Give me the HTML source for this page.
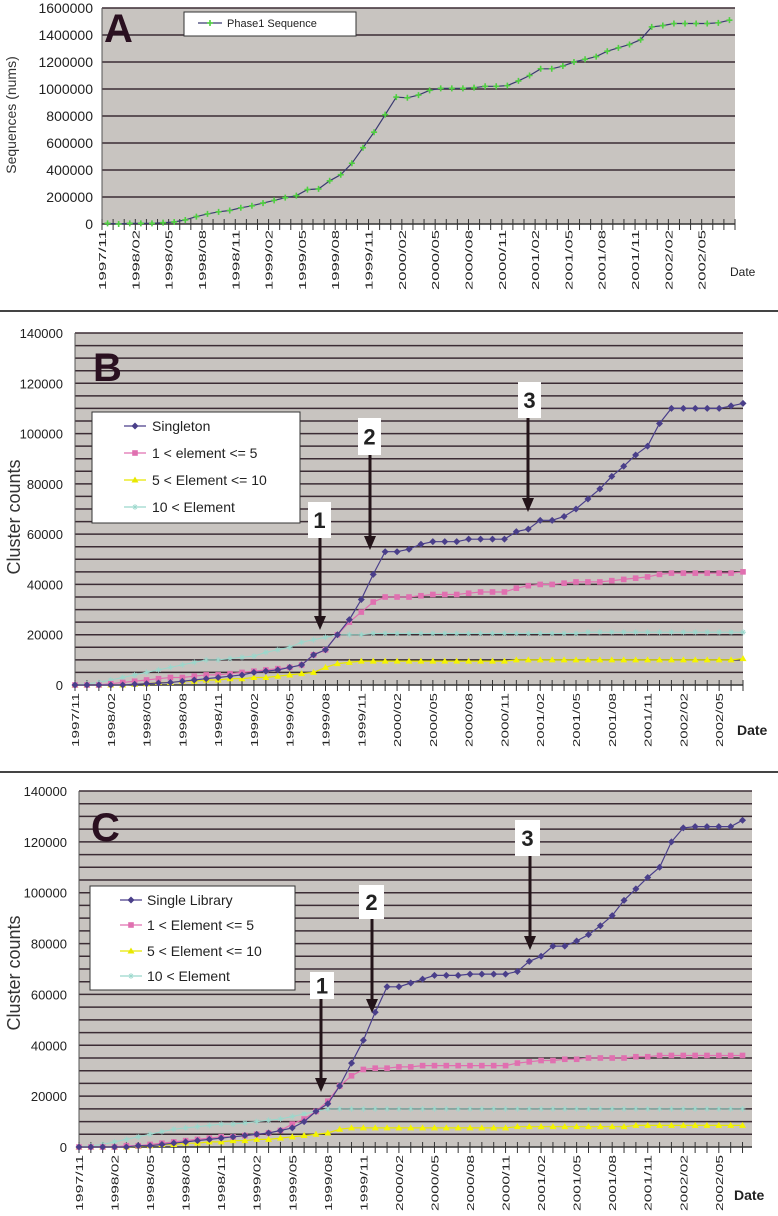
<!DOCTYPE html>
<html><head><meta charset="utf-8"><style>
html,body{margin:0;padding:0;background:#fff;}
svg{display:block;}
text{font-family:"Liberation Sans",sans-serif;}
</style></head><body>
<svg id="fig" width="778" height="1216" viewBox="0 0 778 1216" xmlns="http://www.w3.org/2000/svg"></svg>
<script>
// ---- data (values in thousands) ----
const months = ["1997/11","1998/02","1998/05","1998/08","1998/11","1999/02","1999/05","1999/08","1999/11","2000/02","2000/05","2000/08","2000/11","2001/02","2001/05","2001/08","2001/11","2002/02","2002/05"];
const monthsB = ["1997/11","1998/02","1998/05","1998/08","1998/11","1999/02","1999/05","1999/08","1999/11","2000/02","2000/05","2000/08","2000/11","2001/02","2001/05","2001/08","2001/11","2002/02","2002/05"];
const yTicksA = [0,200000,400000,600000,800000,1000000,1200000,1400000,1600000];
const yTicksBC = [0,20000,40000,60000,80000,100000,120000,140000];
const phase1Seq = [5,0,5,5,5,10,15,30,55,75,90,100,120,135,155,175,195,210,255,260,320,365,450,565,680,810,940,935,955,990,1005,1005,1005,1010,1020,1020,1025,1060,1100,1150,1150,1170,1200,1220,1240,1280,1305,1330,1365,1460,1470,1485,1485,1485,1485,1490,1510];
const bSingleton = [0,0,0,0,0,0.3,0.5,0.8,1,1.5,2,2.5,3,3.5,4,5,5.5,6,7,8,12,14,20,26,34,44,53,53,54,56,57,57,57,58,58,58,58,61,62,65.5,65.5,67,70,74,78,83,87,91.5,95,104,110,110,110,110,110,111,112];
const bPink = [0,0,0,0.5,1,1.5,2,2.5,3,3,3.5,4,4,4.5,5,5.5,6,6.5,7,8,12,14,20,25,29,33,35,35,35,35.5,36,36,36,36.5,37,37,37,38.5,39.5,40,40,40.5,41,41,41,41.5,42,42.5,43,44,44.5,44.5,44.5,44.5,44.5,44.5,45];
const bYellow = [0,0,0,0,0,0.3,0.5,1,1,1.5,1.5,2,2,2.5,2.5,3,3,3.5,4,4.5,5,7,8.5,9,9.5,9.5,9.5,9.5,9.5,9.5,9.5,9.5,9.5,9.5,9.5,9.5,9.5,10,10,10,10,10,10,10,10,10,10,10,10,10,10,10,10,10,10,10,10.5];
const bTeal = [0,0.5,1,2,3,4,5,6,7,8,9,10,10,10.5,11,11.5,13,14,15,17,18,19,20,20,20,20.5,20.5,20.5,20.5,20.5,20.5,20.5,20.5,20.5,20.5,20.5,20.5,20.5,20.5,20.5,20.5,20.5,20.5,21,21,21,21,21,21,21,21,21,21,21,21,21,21];
const cSingle = [0,0,0,0,0,0.5,0.5,1,1.5,2,2.5,3,3.5,4,4.5,5,5.5,6.5,7.5,10,14,17,24,33,42,53,63,63,64.5,66,67.5,67.5,67.5,68,68,68,68,69,73,75,79,79,81,83.5,87,91,97,101.5,106,110,120,125.5,126,126,126,126,128.5];
const cPink = [0,0,0,0,0.5,0.5,1,1.5,2,2.5,3,3.5,4,4,4.5,5,5.5,6.5,9,11,14,18,24,28,30.5,31,31,31.5,31.5,32,32,32,32,32,32,32,32,33,33.5,34,34,34.5,34.5,35,35,35,35,35.5,35.5,36,36,36,36,36,36,36,36];
const cYellow = [0,0,0,0,0,0.3,0.5,1,1,1.5,1.5,2,2,2.5,2.5,3,3,3.5,4,4.5,5,5.5,7,7.5,7.5,7.5,7.5,7.5,7.5,7.5,7.5,7.5,7.5,7.5,7.5,7.5,7.5,8,8,8,8,8,8,8,8,8,8,8.5,8.5,8.5,8.5,8.5,8.5,8.5,8.5,8.5,8.5];
const cTeal = [0,0.5,1,2,3,4,5,6,7,7.5,8,8.5,9,9,9.5,10,10.5,11,12,13,14,15,15,15,15,15,15,15,15,15,15,15,15,15,15,15,15,15,15,15,15,15,15,15,15,15,15,15,15,15,15,15,15,15,15,15,15];

const NS='http://www.w3.org/2000/svg';
const svg=document.getElementById('fig');
function mk(tag,attrs,parent,txt){const e=document.createElementNS(NS,tag);for(const k in attrs)e.setAttribute(k,attrs[k]);if(txt!==undefined)e.textContent=txt;(parent||svg).appendChild(e);return e;}

function marker(g,kind,x,y,col){
  if(kind==='plus'){mk('path',{d:`M${x-3},${y}h6M${x},${y-3}v6`,stroke:col,'stroke-width':1.6},g);}
  else if(kind==='diamond'){mk('path',{d:`M${x},${y-3.5}L${x+3.5},${y}L${x},${y+3.5}L${x-3.5},${y}Z`,fill:col},g);}
  else if(kind==='square'){mk('rect',{x:x-2.8,y:y-2.8,width:5.6,height:5.6,fill:col},g);}
  else if(kind==='tri'){mk('path',{d:`M${x},${y-3.5}L${x+3.5},${y+2.5}L${x-3.5},${y+2.5}Z`,fill:col},g);}
  else if(kind==='star'){mk('path',{d:`M${x-3},${y}h6M${x},${y-3}v6M${x-2},${y-2}l4,4M${x+2},${y-2}l-4,4`,stroke:col,'stroke-width':0.8},g);}
}

function panel(cfg){
  const g=mk('g',{});
  
  
  const {x0,x1,yTop,yBot,vmax,scale}=cfg;
  const yS=v=>yBot-(v/vmax)*(yBot-yTop);
  const xS=i=>cfg.centered? x0+(i+0.5)*cfg.w : x0+i*cfg.w;
  const bg=mk('rect',{x:x0,y:yTop,width:x1-x0,height:yBot-yTop,fill:'#c8c4c0'},g);
  
  
  // gridlines
  for(let v=cfg.gridStep; v<=vmax+1; v+=cfg.gridStep){
    const gl=mk('line',{x1:x0,x2:x1,y1:yS(v),y2:yS(v),stroke:'#3b2c34','stroke-width':cfg.gridW},g);
    
    
  }
  mk('line',{x1:x0,x2:x0,y1:yTop,y2:yBot,stroke:'#555','stroke-width':1},g);
  mk('line',{x1:x0,x2:x1,y1:yBot,y2:yBot,stroke:'#333','stroke-width':1.5},g);
  // y tick labels
  cfg.yTicks.forEach(v=>{
    const t=mk('text',{x:cfg.yLabX,y:yS(v)+5,'text-anchor':'end','font-size':cfg.yFont,fill:'#222'},g,String(v));
    
    
  });
  // x ticks
  const nT=cfg.series[0].data.length;
  for(let i=0;i<=nT;i++){
    const xx=cfg.centered? x0+i*cfg.w : x0+i*cfg.w;
    if(xx>x1+0.5)break;
    mk('line',{x1:xx,x2:xx,y1:yBot-5,y2:yBot+6,stroke:'#333','stroke-width':1},g);
  }
  // x labels
  cfg.xLabels.forEach((lab,k)=>{
    const xx=x0+k*3*cfg.w+4;
    const t=mk('text',{x:0,y:0,transform:`translate(${xx},${yBot+cfg.xLabGap}) rotate(-90)`,'text-anchor':'end','font-size':cfg.xFont,fill:'#222',textLength:cfg.xLabLen,lengthAdjust:'spacingAndGlyphs'},g,lab);
    
    
  });
  // series
  cfg.series.forEach(s=>{
    const sg=mk('g',{},g);
    
    
    const pts=s.data.map((v,i)=>`${xS(i).toFixed(1)},${yS(v*scale).toFixed(1)}`).join(' ');
    mk('polyline',{points:pts,fill:'none',stroke:s.line,'stroke-width':s.lw||1.2},sg);
    s.data.forEach((v,i)=>marker(sg,s.marker,xS(i),yS(v*scale),s.col));
  });
  return g;
}

// separators
mk('line',{x1:0,x2:778,y1:311,y2:311,stroke:'#444','stroke-width':2});
mk('line',{x1:0,x2:778,y1:772,y2:772,stroke:'#444','stroke-width':2});

// Panel A
panel({name:'panel-a-chart',x0:102,x1:735,yTop:8,yBot:224,vmax:1600000,scale:1000,centered:true,w:(735-102)/57,
  gridStep:200000,gridW:1.6,yTicks:yTicksA,yLabX:93,yFont:14,xLabels:months,xLabGap:6,xFont:10,xLabLen:60,
  series:[{name:'phase1-sequence-series',data:phase1Seq,line:'#3a3a70',col:'#4fd040',marker:'plus'}]});
let t;
t=mk('text',{x:104,y:42,'font-size':40,'font-weight':'bold',fill:'#2a1020'},svg,'A');

t=mk('text',{x:0,y:0,transform:'translate(16,115) rotate(-90)','text-anchor':'middle','font-size':14,fill:'#333'},svg,'Sequences (nums)');

t=mk('text',{x:730,y:276,'font-size':12,fill:'#222'},svg,'Date');

let lg=mk('g',{});
mk('rect',{x:184,y:12,width:172,height:24,fill:'#fff',stroke:'#333','stroke-width':1},lg);
mk('line',{x1:198,x2:222,y1:23,y2:23,stroke:'#3a3a70','stroke-width':1.2},lg);
marker(lg,'plus',210,23,'#4fd040');
mk('text',{x:227,y:27,'font-size':11,fill:'#222'},lg,'Phase1 Sequence');

// Panel B
panel({name:'panel-b-chart',x0:75,x1:743,yTop:333,yBot:685,vmax:140000,scale:1000,centered:false,w:(743-75)/56,
  gridStep:5000,gridW:1.5,yTicks:yTicksBC,yLabX:63,yFont:13,xLabels:monthsB,xLabGap:8,xFont:10,xLabLen:54,
  series:[
   {name:'teal-series-b',data:bTeal,line:'#9ad8cc',col:'#9ad8cc',marker:'star',lw:1},
   {name:'yellow-series-b',data:bYellow,line:'#e8e800',col:'#f4f400',marker:'tri'},
   {name:'pink-series-b',data:bPink,line:'#e070b0',col:'#e070b0',marker:'square'},
   {name:'singleton-series-b',data:bSingleton,line:'#4a3f8a',col:'#4a3f8a',marker:'diamond'}]});
t=mk('text',{x:93,y:381,'font-size':40,'font-weight':'bold',fill:'#2a1020'},svg,'B');

t=mk('text',{x:0,y:0,transform:'translate(20,517) rotate(-90)','text-anchor':'middle','font-size':18,fill:'#333'},svg,'Cluster counts');

t=mk('text',{x:737,y:735,'font-size':14,'font-weight':'bold',fill:'#222'},svg,'Date');


function legend(name,x,y,w,h,entries,rowY,lx,tx){
  const g=mk('g',{});
  mk('rect',{x:x,y:y,width:w,height:h,fill:'#fff',stroke:'#333','stroke-width':1},g);
  entries.forEach((e,i)=>{
    const yy=rowY[i];
    mk('line',{x1:lx,x2:lx+22,y1:yy,y2:yy,stroke:e.col,'stroke-width':1.2},g);
    marker(g,e.m,lx+11,yy,e.col);
    const tt=mk('text',{x:tx,y:yy+5,'font-size':14,fill:'#222'},g,e.t);
    
  });
}
legend('legend-b',92,412,208,111,[
 {t:'Singleton',col:'#4a3f8a',m:'diamond'},{t:'1 < element <= 5',col:'#e070b0',m:'square'},
 {t:'5 < Element <= 10',col:'#e8e800',m:'tri'},{t:'10 < Element',col:'#9ad8cc',m:'star'}],[426,453,480,507],124,152);

function callout(name,n,bx,by,bw,bh,ax,ay2){
  const g=mk('g',{});
  mk('rect',{x:bx,y:by,width:bw,height:bh,fill:'#fff'},g);
  mk('text',{x:bx+bw/2,y:by+bh/2+8,'text-anchor':'middle','font-size':22,'font-weight':'bold',fill:'#222'},g,n);
  mk('line',{x1:ax,x2:ax,y1:by+bh,y2:ay2-12,stroke:'#231419','stroke-width':3},g);
  mk('path',{d:`M${ax-6},${ay2-14}L${ax+6},${ay2-14}L${ax},${ay2}Z`,fill:'#231419'},g);
}
callout('arrow-1-b','1',308,502,23,36,320,630);
callout('arrow-2-b','2',358,418,23,37,370,550);
callout('arrow-3-b','3',518,382,23,36,528,512);

// Panel C
panel({name:'panel-c-chart',x0:79,x1:752,yTop:791,yBot:1147,vmax:140000,scale:1000,centered:false,w:(752-79)/56.8,
  gridStep:5000,gridW:1.5,yTicks:yTicksBC,yLabX:67,yFont:13,xLabels:monthsB,xLabGap:8,xFont:10,xLabLen:56,
  series:[
   {name:'teal-series-c',data:cTeal,line:'#9ad8cc',col:'#9ad8cc',marker:'star',lw:1},
   {name:'yellow-series-c',data:cYellow,line:'#e8e800',col:'#f4f400',marker:'tri'},
   {name:'pink-series-c',data:cPink,line:'#e070b0',col:'#e070b0',marker:'square'},
   {name:'single-library-series-c',data:cSingle,line:'#4a3f8a',col:'#4a3f8a',marker:'diamond'}]});
t=mk('text',{x:91,y:841,'font-size':40,'font-weight':'bold',fill:'#2a1020'},svg,'C');

t=mk('text',{x:0,y:0,transform:'translate(20,973) rotate(-90)','text-anchor':'middle','font-size':18,fill:'#333'},svg,'Cluster counts');

t=mk('text',{x:734,y:1200,'font-size':14,'font-weight':'bold',fill:'#222'},svg,'Date');

legend('legend-c',90,886,205,104,[
 {t:'Single Library',col:'#4a3f8a',m:'diamond'},{t:'1 < Element <= 5',col:'#e070b0',m:'square'},
 {t:'5 < Element <= 10',col:'#e8e800',m:'tri'},{t:'10 < Element',col:'#9ad8cc',m:'star'}],[900,925,951,976],120,147);
callout('arrow-1-c','1',310,972,24,27,321,1092);
callout('arrow-2-c','2',359,885,25,34,372,1013);
callout('arrow-3-c','3',515,820,25,36,530,950);
</script>
</body></html>
